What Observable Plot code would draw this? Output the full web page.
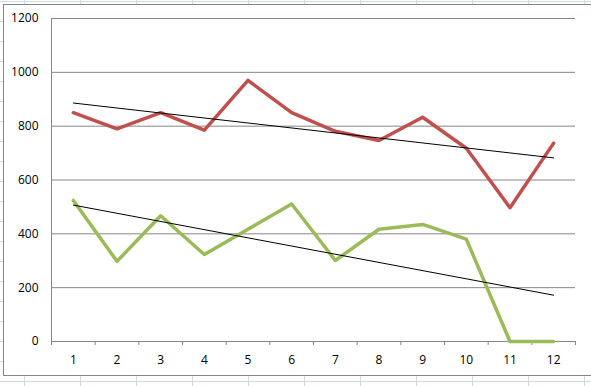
<!DOCTYPE html>
<html>
<head>
<meta charset="utf-8">
<script src="https://cdn.jsdelivr.net/npm/d3@7"></script>
<script src="https://cdn.jsdelivr.net/npm/@observablehq/plot@0.6"></script>
<style>
  html, body { margin: 0; padding: 0; }
  body {
    width: 591px; height: 386px; overflow: hidden; position: relative;
    background-color: #fff;
    background-image:
      repeating-linear-gradient(to right, transparent 0, transparent 24px, #D0D7E5 24px, #D0D7E5 25px, transparent 25px, transparent 56px),
      repeating-linear-gradient(to bottom, transparent 0, transparent 1px, #D0D7E5 1px, #D0D7E5 2px, transparent 2px, transparent 20px);
    background-size: 56px 100%, 100% 20px;
    background-position: 0 0, 0 0;
  }
  #chart {
    position: absolute; left: 3px; top: 4px; width: 600px; height: 370px;
    border: 1px solid #868686; background: #fff;
  }
  #chart svg { display: block; }
</style>
</head>
<body>
<div id="chart"></div>
<script>
const categories = [1, 2, 3, 4, 5, 6, 7, 8, 9, 10, 11, 12];
const redValues = [850, 790, 850, 785, 970, 850, 781, 747, 833, 718, 497, 737];
const greenValues = [524, 298, 467, 323, 417, 511, 301, 417, 435, 380, 0, 0];
const yTicks = [0, 200, 400, 600, 800, 1000, 1200];

const red = categories.map((c, i) => ({x: c, y: redValues[i]}));
const green = categories.map((c, i) => ({x: c, y: greenValues[i]}));
const boundaries = categories.map(c => c - 0.5).concat([categories[categories.length - 1] + 0.5]);

const chart = Plot.plot({
  width: 587,
  height: 370,
  marginLeft: 47,
  marginRight: 16,
  marginTop: 13,
  marginBottom: 34,
  style: {background: "white", fontFamily: "'Open Sans', sans-serif", fontSize: "12px", color: "#000", overflow: "visible"},
  x: {type: "linear", domain: [boundaries[0], boundaries[boundaries.length - 1]]},
  y: {domain: [0, 1200]},
  marks: [
    Plot.gridY(yTicks, {stroke: "#868686", strokeOpacity: 1, strokeWidth: 1}),
    Plot.ruleX([boundaries[0]], {stroke: "#868686", strokeWidth: 1}),
    Plot.axisY(yTicks, {tickSize: 0, tickPadding: 13, label: null, tickFormat: d => String(d), fill: "#000"}),
    Plot.axisX(boundaries, {tickSize: 4, stroke: "#868686", tickFormat: () => "", label: null}),
    Plot.axisX(categories, {tickSize: 0, tickPadding: 14, label: null, tickFormat: d => String(d), fill: "#000"}),
    Plot.line(red, {x: "x", y: "y", stroke: "#C0504D", strokeWidth: 3.5, strokeLinejoin: "round"}),
    Plot.line(green, {x: "x", y: "y", stroke: "#9BBB59", strokeWidth: 3.5, strokeLinejoin: "round"}),
    Plot.linearRegressionY(red, {x: "x", y: "y", stroke: "#000", strokeWidth: 1, ci: 0}),
    Plot.linearRegressionY(green, {x: "x", y: "y", stroke: "#000", strokeWidth: 1, ci: 0})
  ]
});
document.getElementById("chart").appendChild(chart);
</script>
</body>
</html>
